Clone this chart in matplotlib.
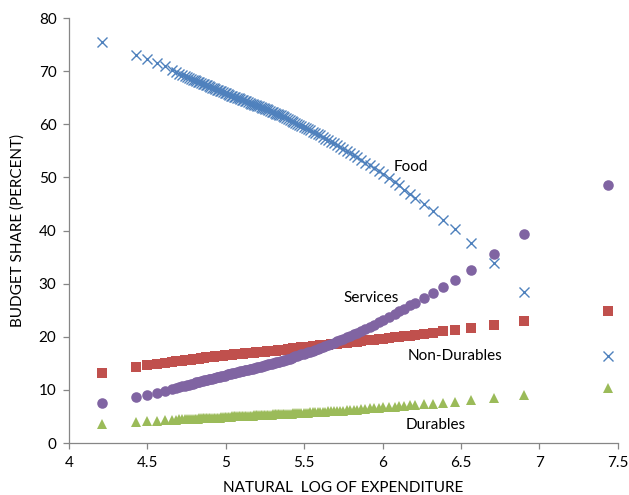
import matplotlib
matplotlib.use("Agg")
from matplotlib import pyplot as plt

# natural log of expenditure, one value per household group
log_exp = [4.209, 4.425, 4.499, 4.559, 4.612, 4.655, 4.680, 4.701, 4.720, 4.737,
           4.752, 4.766, 4.779, 4.791, 4.802, 4.812, 4.822, 4.832, 4.842, 4.852,
           4.862, 4.872, 4.882, 4.892, 4.902, 4.912, 4.922, 4.932, 4.942, 4.952,
           4.962, 4.972, 4.982, 4.992, 5.002, 5.012, 5.022, 5.032, 5.042, 5.052,
           5.062, 5.072, 5.082, 5.092, 5.102, 5.112, 5.122, 5.132, 5.142, 5.152,
           5.162, 5.172, 5.182, 5.192, 5.202, 5.212, 5.222, 5.232, 5.242, 5.252,
           5.262, 5.272, 5.282, 5.292, 5.302, 5.312, 5.322, 5.332, 5.342, 5.352,
           5.363, 5.374, 5.385, 5.396, 5.408, 5.420, 5.432, 5.444, 5.457, 5.470,
           5.483, 5.497, 5.511, 5.525, 5.540, 5.555, 5.570, 5.586, 5.602, 5.619,
           5.636, 5.654, 5.672, 5.691, 5.710, 5.730, 5.750, 5.771, 5.793, 5.816,
           5.840, 5.865, 5.891, 5.918, 5.946, 5.975, 6.006, 6.043, 6.077, 6.107,
           6.139, 6.173, 6.205, 6.262, 6.320, 6.386, 6.463, 6.562, 6.712, 6.905,
           7.440]

food = [75.5, 73.1, 72.2, 71.5, 70.9, 70.2, 69.8, 69.5, 69.3, 69.1,
        68.9, 68.7, 68.6, 68.4, 68.3, 68.1, 68.0, 67.9, 67.8, 67.6,
        67.5, 67.4, 67.3, 67.2, 67.0, 66.9, 66.8, 66.6, 66.5, 66.4,
        66.3, 66.2, 66.0, 65.9, 65.8, 65.7, 65.5, 65.4, 65.3, 65.2,
        65.1, 65.0, 64.9, 64.7, 64.6, 64.5, 64.4, 64.3, 64.2, 64.0,
        63.9, 63.8, 63.7, 63.6, 63.5, 63.4, 63.2, 63.1, 63.0, 62.9,
        62.8, 62.6, 62.5, 62.4, 62.3, 62.2, 62.0, 61.9, 61.8, 61.7,
        61.5, 61.3, 61.2, 61.0, 60.8, 60.7, 60.5, 60.3, 60.1, 59.9,
        59.7, 59.5, 59.3, 59.1, 58.9, 58.6, 58.4, 58.1, 57.9, 57.6,
        57.3, 57.0, 56.7, 56.4, 56.1, 55.8, 55.4, 55.0, 54.6, 54.2,
        53.8, 53.3, 52.8, 52.3, 51.8, 51.2, 50.6, 49.8, 49.1, 48.5,
        47.7, 46.9, 46.2, 45.0, 43.7, 42.0, 40.2, 37.6, 33.8, 28.5,
        16.3]

services = [7.6, 8.7, 9.1, 9.5, 9.8, 10.2, 10.4, 10.5, 10.7, 10.8,
            10.9, 11.0, 11.1, 11.2, 11.3, 11.4, 11.5, 11.5, 11.6, 11.7,
            11.8, 11.8, 11.9, 12.0, 12.1, 12.1, 12.2, 12.3, 12.4, 12.4,
            12.5, 12.6, 12.7, 12.7, 12.8, 12.9, 13.0, 13.0, 13.1, 13.2,
            13.2, 13.3, 13.4, 13.5, 13.5, 13.6, 13.7, 13.8, 13.8, 13.9,
            14.0, 14.0, 14.1, 14.2, 14.3, 14.3, 14.4, 14.5, 14.5, 14.6,
            14.7, 14.8, 14.8, 14.9, 15.0, 15.1, 15.2, 15.2, 15.3, 15.4,
            15.5, 15.6, 15.7, 15.8, 15.9, 16.0, 16.2, 16.3, 16.4, 16.5,
            16.7, 16.8, 16.9, 17.1, 17.2, 17.4, 17.6, 17.7, 17.9, 18.1,
            18.3, 18.5, 18.7, 18.9, 19.2, 19.4, 19.6, 19.9, 20.2, 20.5,
            20.8, 21.1, 21.5, 21.9, 22.3, 22.7, 23.2, 23.8, 24.3, 24.8,
            25.3, 25.9, 26.4, 27.3, 28.2, 29.3, 30.6, 32.6, 35.5, 39.4,
            48.6]

non_durables = [13.2, 14.3, 14.6, 14.9, 15.1, 15.3, 15.4, 15.5, 15.5, 15.6,
                15.6, 15.7, 15.7, 15.8, 15.8, 15.8, 15.9, 15.9, 16.0, 16.0,
                16.0, 16.1, 16.1, 16.1, 16.2, 16.2, 16.2, 16.3, 16.3, 16.3,
                16.4, 16.4, 16.4, 16.5, 16.5, 16.5, 16.6, 16.6, 16.6, 16.7,
                16.7, 16.7, 16.7, 16.8, 16.8, 16.8, 16.9, 16.9, 16.9, 16.9,
                17.0, 17.0, 17.0, 17.1, 17.1, 17.1, 17.1, 17.2, 17.2, 17.2,
                17.3, 17.3, 17.3, 17.3, 17.4, 17.4, 17.4, 17.5, 17.5, 17.5,
                17.6, 17.6, 17.6, 17.7, 17.7, 17.7, 17.8, 17.8, 17.9, 17.9,
                18.0, 18.0, 18.1, 18.1, 18.1, 18.2, 18.2, 18.3, 18.4, 18.4,
                18.5, 18.5, 18.6, 18.6, 18.7, 18.8, 18.8, 18.9, 19.0, 19.0,
                19.1, 19.2, 19.3, 19.3, 19.4, 19.5, 19.6, 19.8, 19.9, 20.0,
                20.1, 20.2, 20.3, 20.6, 20.8, 21.0, 21.3, 21.6, 22.2, 23.0,
                24.9]

durables = [3.6, 3.9, 4.1, 4.2, 4.3, 4.4, 4.4, 4.5, 4.5, 4.5,
            4.5, 4.6, 4.6, 4.6, 4.6, 4.6, 4.6, 4.7, 4.7, 4.7,
            4.7, 4.7, 4.7, 4.7, 4.8, 4.8, 4.8, 4.8, 4.8, 4.8,
            4.8, 4.9, 4.9, 4.9, 4.9, 4.9, 4.9, 4.9, 5.0, 5.0,
            5.0, 5.0, 5.0, 5.0, 5.0, 5.1, 5.1, 5.1, 5.1, 5.1,
            5.1, 5.1, 5.2, 5.2, 5.2, 5.2, 5.2, 5.2, 5.3, 5.3,
            5.3, 5.3, 5.3, 5.3, 5.4, 5.4, 5.4, 5.4, 5.4, 5.4,
            5.5, 5.5, 5.5, 5.5, 5.5, 5.5, 5.6, 5.6, 5.6, 5.6,
            5.7, 5.7, 5.7, 5.7, 5.8, 5.8, 5.8, 5.8, 5.9, 5.9,
            5.9, 6.0, 6.0, 6.0, 6.1, 6.1, 6.1, 6.2, 6.2, 6.3,
            6.3, 6.4, 6.4, 6.5, 6.5, 6.6, 6.7, 6.8, 6.8, 6.9,
            7.0, 7.1, 7.2, 7.3, 7.4, 7.6, 7.7, 8.1, 8.5, 9.0,
            10.4]

# label text and anchor (left edge, vertical centre) in data units
labels = ["Food", "Services", "Non-Durables", "Durables"]
label_pos = [(6.07, 52.0), (5.75, 27.3), (6.16, 16.4), (6.15, 3.4)]

plt.rcParams['font.family'] = ['Lato', 'DejaVu Sans']
grey = "#868686"

fig = plt.figure(figsize=(6.29, 4.95), dpi=100)
ax = fig.add_axes([0.1097, 0.105, 0.8723, 0.8586])

ax.plot(log_exp, food, linestyle="none", marker="x", color="#4F81BD",
        markersize=6.5, markeredgewidth=1.0)
ax.plot(log_exp, non_durables, linestyle="none", marker="s", color="#C0504D",
        markersize=7.0, markeredgewidth=0)
ax.plot(log_exp, durables, linestyle="none", marker="^", color="#9BBB59",
        markersize=7.5, markeredgewidth=0)
ax.plot(log_exp, services, linestyle="none", marker="o", color="#8064A2",
        markersize=7.6, markeredgewidth=0)

for txt, (lx, ly) in zip(labels, label_pos):
    ax.text(lx, ly, txt, fontsize=11, ha="left", va="center", color="black")

ax.set_xlim(4, 7.5)
ax.set_ylim(0, 80)
ax.set_xticks([4, 4.5, 5, 5.5, 6, 6.5, 7, 7.5])
ax.set_xticklabels(["4", "4.5", "5", "5.5", "6", "6.5", "7", "7.5"])
ax.set_yticks(range(0, 81, 10))

for side in ["top", "right"]:
    ax.spines[side].set_visible(False)
for side in ["left", "bottom"]:
    ax.spines[side].set_color(grey)
    ax.spines[side].set_linewidth(0.9)
ax.tick_params(axis="both", direction="out", length=4, width=0.9, color=grey,
               labelsize=11, pad=5)

ax.set_ylabel("BUDGET SHARE (PERCENT)", fontsize=11, labelpad=10)
ax.set_xlabel("NATURAL  LOG OF EXPENDITURE", fontsize=11, labelpad=8)

fig.savefig("out.png", dpi=100)
